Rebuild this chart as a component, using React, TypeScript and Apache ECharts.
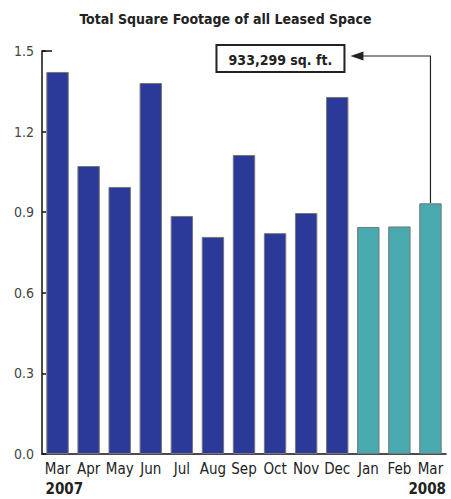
import React, { useEffect, useRef } from "react";
import * as echarts from "echarts";

const categories = ["Mar", "Apr", "May", "Jun", "Jul", "Aug", "Sep", "Oct", "Nov", "Dec", "Jan", "Feb", "Mar"];
const values = [1.422, 1.072, 0.994, 1.381, 0.886, 0.808, 1.113, 0.822, 0.897, 1.329, 0.845, 0.847, 0.933];
const colors2007 = "#2B3A98";
const colors2008 = "#48A9AF";
const yearFlags = [0, 0, 0, 0, 0, 0, 0, 0, 0, 0, 1, 1, 1];
const yearLabels = ["2007", "2008"];
const annotationText = "933,299 sq. ft.";
const titleText = "Total Square Footage of all Leased Space";

const FONT = "'Liberation Sans Narrow', 'DejaVu Sans Condensed', 'Liberation Sans', sans-serif";

export default function App() {
  const ref = useRef<HTMLDivElement>(null);
  useEffect(() => {
    if (!ref.current) return;
    const chart = echarts.init(ref.current, null, { renderer: "svg" });
    chart.setOption({
      animation: false,
      title: {
        text: titleText,
        left: "center",
        top: 7,
        textStyle: { fontFamily: FONT, fontSize: 14, fontWeight: "bold", color: "#222" },
      },
      grid: { left: 42, right: 5, top: 51, bottom: 45 },
      xAxis: {
        type: "category",
        data: categories,
        axisLine: { lineStyle: { color: "#111", width: 1.5 } },
        axisTick: { inside: true, length: 9, lineStyle: { color: "#111", width: 1.5 }, interval: 0 },
        axisLabel: { interval: 0, color: "#222", fontFamily: FONT, fontSize: 15, margin: 7 },
      },
      yAxis: {
        type: "value",
        min: 0,
        max: 1.5,
        interval: 0.3,
        splitLine: { show: false },
        axisLine: { show: true, lineStyle: { color: "#111", width: 1.5 } },
        axisTick: { show: true, inside: true, length: 4, lineStyle: { color: "#111", width: 1.5 } },
        axisLabel: {
          color: "#444",
          fontFamily: FONT,
          fontSize: 14,
          margin: 8,
          formatter: (v: number) => v.toFixed(1),
        },
      },
      series: [
        {
          type: "bar",
          data: values.map((v, i) => ({
            value: v,
            itemStyle: { color: yearFlags[i] ? colors2008 : colors2007 },
          })),
          barCategoryGap: "28%",
          itemStyle: { borderColor: "#777", borderWidth: 1 },
        },
      ],
    });

    const last = values.length - 1;
    const [bx, by] = chart.convertToPixel({ gridIndex: 0 }, [last, values[last]]) as number[];
    const [x0, yZero] = chart.convertToPixel({ gridIndex: 0 }, [0, 0]) as number[];
    const [, yTop] = chart.convertToPixel({ gridIndex: 0 }, [0, 1.5]) as number[];
    const gridLeft = 42;
    const gridRight = 451 - 5;
    const lineY = yTop + 5;
    const boxRight = bx - 86;
    const boxLeft = boxRight - 128;
    const boxTop = yTop - 6;
    const boxH = 27;
    const tipX = boxRight + 6;

    chart.setOption({
      graphic: [
        {
          type: "line",
          shape: { x1: gridLeft, y1: yTop, x2: gridLeft + 10, y2: yTop },
          style: { stroke: "#111", lineWidth: 1.5 },
        },
        {
          type: "rect",
          shape: { x: boxLeft, y: boxTop, width: boxRight - boxLeft, height: boxH },
          style: { fill: "#fff", stroke: "#222", lineWidth: 2 },
        },
        {
          type: "text",
          x: (boxLeft + boxRight) / 2,
          y: boxTop + boxH / 2 + 1,
          style: {
            text: annotationText,
            align: "center",
            verticalAlign: "middle",
            fontFamily: FONT,
            fontWeight: "bold",
            fontSize: 14,
            fill: "#222",
          },
        },
        {
          type: "polyline",
          shape: { points: [[bx, by], [bx, lineY], [tipX + 10, lineY]] },
          style: { stroke: "#222", lineWidth: 1.2, fill: null },
        },
        {
          type: "polygon",
          shape: { points: [[tipX, lineY], [tipX + 13, lineY - 4.5], [tipX + 13, lineY + 4.5]] },
          style: { fill: "#222" },
        },
        {
          type: "text",
          x: x0 - 12,
          y: yZero + 27,
          style: {
            text: yearLabels[0],
            align: "left",
            verticalAlign: "top",
            fontFamily: FONT,
            fontWeight: "bold",
            fontSize: 15,
            fill: "#222",
          },
        },
        {
          type: "text",
          x: gridRight,
          y: yZero + 27,
          style: {
            text: yearLabels[1],
            align: "right",
            verticalAlign: "top",
            fontFamily: FONT,
            fontWeight: "bold",
            fontSize: 15,
            fill: "#222",
          },
        },
      ],
    });

    return () => chart.dispose();
  }, []);
  return <div ref={ref} style={{ width: 451, height: 499, position: "absolute", left: 0, top: 0 }} />;
}
